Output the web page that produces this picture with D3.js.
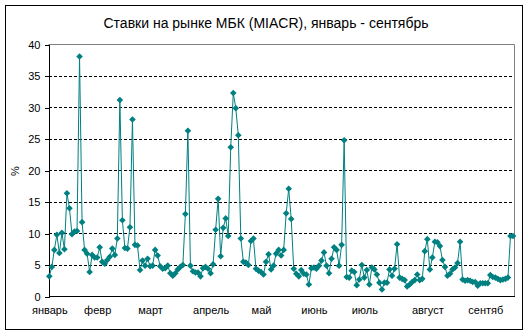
<!DOCTYPE html>
<html><head><meta charset="utf-8">
<script src="https://cdn.jsdelivr.net/npm/d3@7/dist/d3.min.js"></script>
<style>
body{margin:0;background:#fff;}
svg{display:block;font-family:"Liberation Sans",Arial,sans-serif;}
</style></head><body>
<svg id="chart" width="529" height="335"></svg>
<script>
const title = "Ставки на рынке МБК (MIACR), январь - сентябрь";
const yTitle = "%";
const yTicks = [0,5,10,15,20,25,30,35,40];
const monthLabels = ["январь","февр","март","апрель","май","июнь","июль","август","сентяб"];
const monthStarts = [0,19,40,64,84,105,125,150,173];
const values = [
 3.2,4.7,7.4,9.8,6.9,10.1,7.5,16.4,14.0,9.9,
 10.3,10.4,38.1,11.8,7.4,6.8,3.9,6.6,6.2,6.2,
 7.8,5.5,5.2,5.8,6.3,7.6,6.6,9.2,31.2,12.1,
 7.7,7.6,11.0,28.1,8.2,8.1,4.2,5.7,4.9,6.0,
 4.8,4.9,7.4,6.5,4.8,4.4,4.5,4.9,3.7,3.3,
 3.7,4.3,4.7,5.0,13.1,26.3,4.9,4.0,3.8,3.8,
 3.2,4.5,4.7,4.4,3.7,5.1,10.6,15.5,6.4,10.9,
 12.4,9.6,23.7,32.3,29.9,25.6,9.2,5.5,5.4,5.0,
 8.8,9.2,4.4,4.1,3.9,3.5,5.5,6.7,4.3,4.9,
 6.8,7.4,6.5,7.4,13.2,17.1,12.3,4.4,3.6,3.2,
 4.2,3.6,3.5,1.9,4.5,4.6,4.4,4.9,5.7,7.0,
 4.9,3.7,6.0,7.8,7.4,4.9,8.2,24.8,3.1,3.0,
 4.1,3.9,1.8,2.7,5.0,3.0,4.2,1.9,4.6,4.3,
 3.5,2.2,1.1,2.2,2.2,4.3,3.3,4.4,8.3,3.0,
 2.8,2.6,1.6,1.9,2.3,2.6,3.5,2.6,2.8,7.2,
 9.1,4.3,6.2,8.7,8.6,8.0,5.8,4.7,3.3,3.6,
 4.3,4.6,5.3,8.7,2.7,2.5,2.6,2.5,2.3,2.3,
 1.7,2.1,2.1,2.1,2.1,3.4,3.1,3.0,2.8,2.6,
 2.7,2.8,3.0,9.6,9.6
];

const svg = d3.select("#chart");
const color = "#008080";

// chart frame
svg.append("rect").attr("x",5.5).attr("y",5.5).attr("width",517).attr("height",324)
  .attr("fill","#fff").attr("stroke","#000").attr("stroke-width",1);

const x = d3.scaleLinear().domain([0, values.length-1]).range([49.3, 513]);
const y = d3.scaleLinear().domain([0, 40]).range([296.5, 44.5]);

// plot area border (gray top/right)
svg.append("path")
  .attr("d", `M${48.5},${y(40)}H${514.5}V${y(0)}`)
  .attr("fill","none").attr("stroke","#808080");

// gridlines
svg.append("g").selectAll("line").data(yTicks.filter(d=>d>0 && d<40)).join("line")
  .attr("x1",49).attr("x2",514).attr("y1",d=>y(d)).attr("y2",d=>y(d))
  .attr("stroke","#000").attr("stroke-dasharray","3,2").attr("shape-rendering","crispEdges");

// y axis
const yAxis = svg.append("g").attr("transform","translate(48.5,0)")
  .call(d3.axisLeft(y).tickValues(yTicks).tickSize(4).tickPadding(4).tickFormat(d3.format("d")));
yAxis.selectAll("path,line").attr("stroke","#000").attr("shape-rendering","crispEdges");
yAxis.selectAll("text").attr("font-size",11).attr("fill","#000").attr("font-family","Liberation Sans,Arial,sans-serif");

// x axis
const xAxis = svg.append("g").attr("transform",`translate(0,${y(0)})`)
  .call(d3.axisBottom(x).tickValues(monthStarts).tickSize(0).tickPadding(10)
    .tickFormat((d,i)=>monthLabels[i]));
xAxis.select("path").attr("stroke","#000").attr("d",`M48.5,0H514.5`).attr("shape-rendering","crispEdges");
xAxis.selectAll("text").attr("font-size",11).attr("fill","#000").attr("font-family","Liberation Sans,Arial,sans-serif");

// line
svg.append("path").datum(values)
  .attr("d", d3.line().x((d,i)=>x(i)).y(d=>y(d)))
  .attr("fill","none").attr("stroke",color).attr("stroke-width",1);

// markers
svg.append("g").selectAll("path").data(values).join("path")
  .attr("transform",(d,i)=>`translate(${x(i)},${y(d)})`)
  .attr("d","M0,-3.3L3.3,0L0,3.3L-3.3,0Z")
  .attr("fill",color);

// title
svg.append("text").attr("x",266).attr("y",28).attr("text-anchor","middle")
  .attr("font-size",14).attr("fill","#000").text(title);

// y title
svg.append("text").attr("transform","translate(19,171) rotate(-90)")
  .attr("text-anchor","middle").attr("font-size",11).attr("fill","#000").text(yTitle);
</script>
</body></html>
